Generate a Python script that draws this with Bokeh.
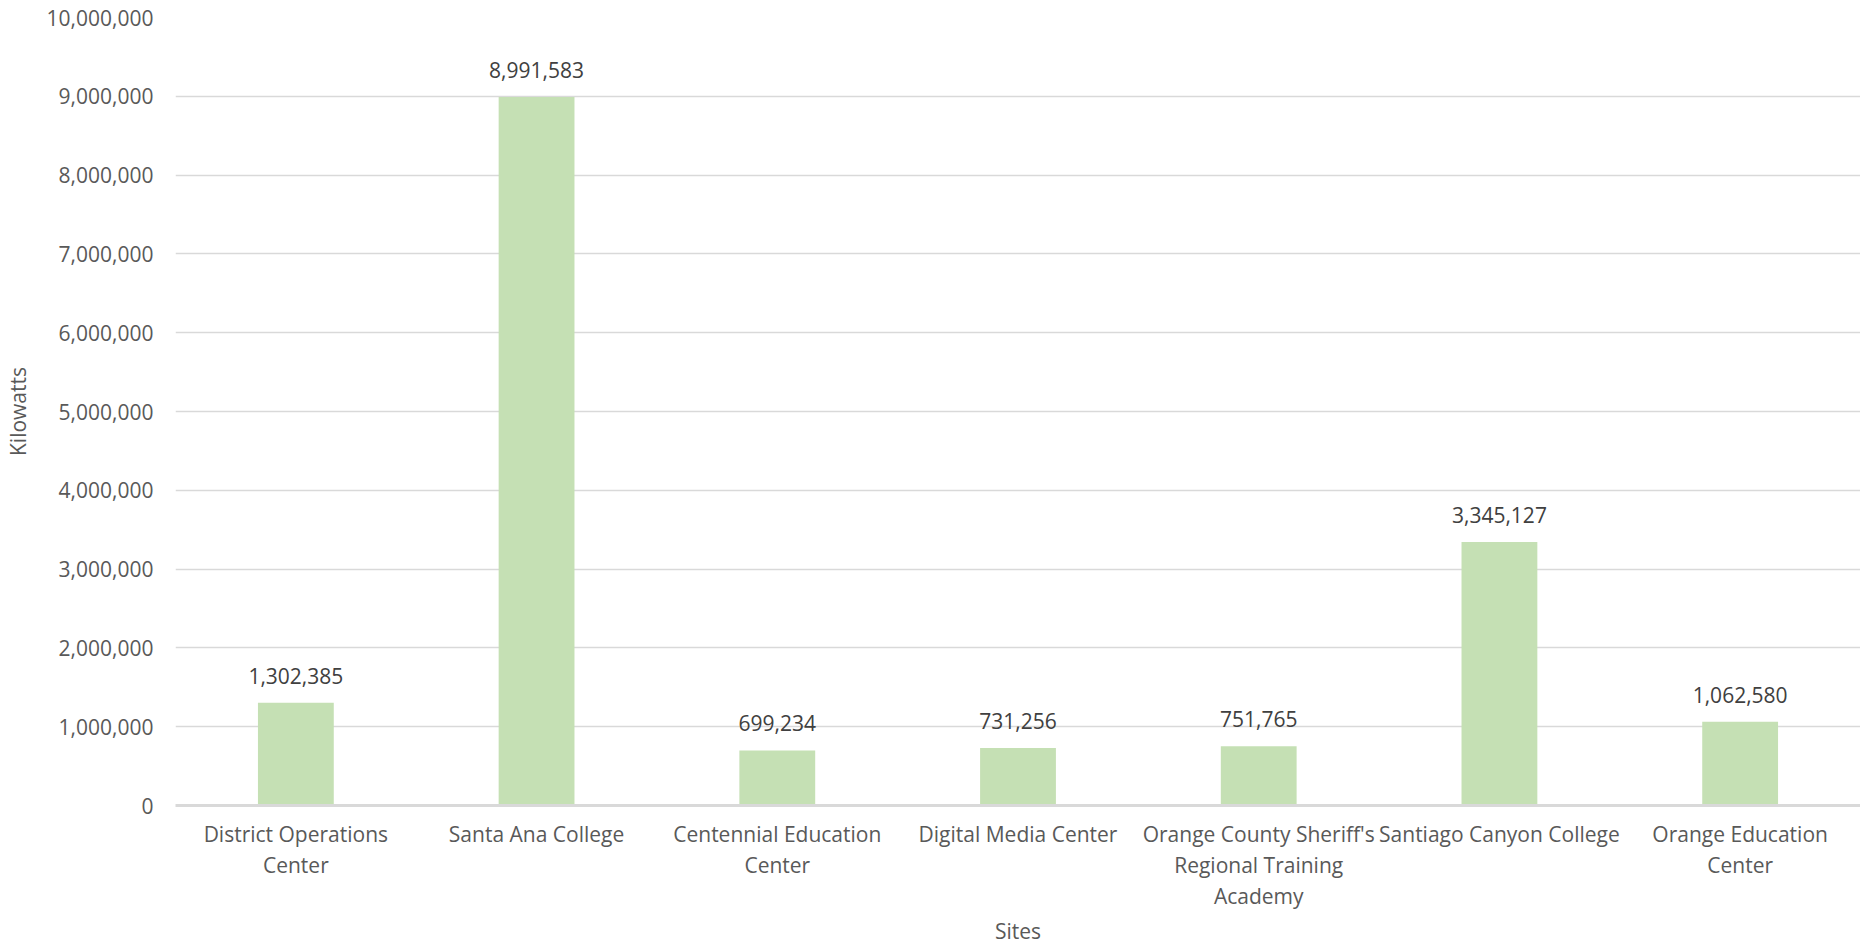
from bokeh.plotting import figure
from bokeh.models import (Range1d, NumeralTickFormatter, FixedTicker, ColumnDataSource,
                          CategoricalAxis, CustomJSTickFormatter)
from bokeh.core.properties import value
from bokeh.embed import file_html
from bokeh.resources import INLINE

sites = ["District Operations Center", "Santa Ana College", "Centennial Education Center",
         "Digital Media Center", "Orange County Sheriff's Regional Training Academy",
         "Santiago Canyon College", "Orange Education Center"]
label_line1 = ["District Operations", "Santa Ana College", "Centennial Education",
               "Digital Media Center", "Orange County Sheriff's", "Santiago Canyon College",
               "Orange Education"]
label_line2 = ["Center", "", "Center", "", "Regional Training", "", "Center"]
label_line3 = ["", "", "", "", "Academy", "", ""]
kilowatts = [1302385, 8991583, 699234, 731256, 751765, 3345127, 1062580]
y_ticks = [0, 1000000, 2000000, 3000000, 4000000, 5000000, 6000000, 7000000, 8000000, 9000000, 10000000]

FONT = "Open Sans"
TXT = "#595959"
GRID = "#d9d9d9"

src = ColumnDataSource(dict(site=sites, kw=kilowatts, lbl=[f"{v:,}" for v in kilowatts]))

p = figure(x_range=sites, y_range=Range1d(0, 10000000), width=1860, height=947,
           output_backend="svg", toolbar_location=None,
           min_border_left=167, min_border_right=0, min_border_top=17, min_border_bottom=136)
p.outline_line_color = None
p.background_fill_color = "white"
p.border_fill_color = "white"

p.vbar(x="site", top="kw", width=0.315, source=src, fill_color="#c5e0b4", line_color=None)
p.text(x="site", y="kw", text="lbl", source=src, text_align="center", text_baseline="middle",
       y_offset=-27, text_font=value(FONT), text_font_size="21px", text_color="#404040")

p.xgrid.grid_line_color = None
p.ygrid.grid_line_color = GRID
p.ygrid.grid_line_width = 1.6

p.yaxis.ticker = FixedTicker(ticks=y_ticks)
p.yaxis.formatter = NumeralTickFormatter(format="0,0")
p.yaxis.axis_line_color = None
p.yaxis.major_tick_line_color = None
p.yaxis.minor_tick_line_color = None
p.yaxis.major_tick_out = 0
p.yaxis.minor_tick_out = 0
p.yaxis.major_label_standoff = 22
p.yaxis.major_label_text_line_height = 1.0
p.yaxis.axis_label = "Kilowatts"
p.yaxis.axis_label_standoff = 12


def line_formatter(lines):
    return CustomJSTickFormatter(args=dict(keys=sites, vals=lines),
                                 code="const i = keys.indexOf(tick); const v = i >= 0 ? vals[i] : ''; return v === '' ? ' ' : v;")


x1 = p.xaxis[0]
x1.axis_line_color = GRID
x1.axis_line_width = 3
x1.formatter = line_formatter(label_line1)
x1.major_label_standoff = 14

x2 = CategoricalAxis(formatter=line_formatter(label_line2), major_label_standoff=0,
                     axis_line_color=None)
x3 = CategoricalAxis(formatter=line_formatter(label_line3), major_label_standoff=0,
                     axis_line_color=None, axis_label="Sites", axis_label_standoff=4,
                     axis_label_text_line_height=1.0)
p.add_layout(x2, "below")
p.add_layout(x3, "below")

for ax in (x1, x2, x3):
    ax.major_tick_line_color = None
    ax.minor_tick_line_color = None
    ax.major_tick_out = 0
    ax.minor_tick_out = 0

for ax in (x1, x2, x3, p.yaxis[0]):
    ax.major_label_text_font = FONT
    ax.major_label_text_font_size = "21px"
    ax.major_label_text_color = TXT
    ax.axis_label_text_font = FONT
    ax.axis_label_text_font_size = "21px"
    ax.axis_label_text_font_style = "normal"
    ax.axis_label_text_color = TXT

open("out.html", "w").write(file_html(p, INLINE))
